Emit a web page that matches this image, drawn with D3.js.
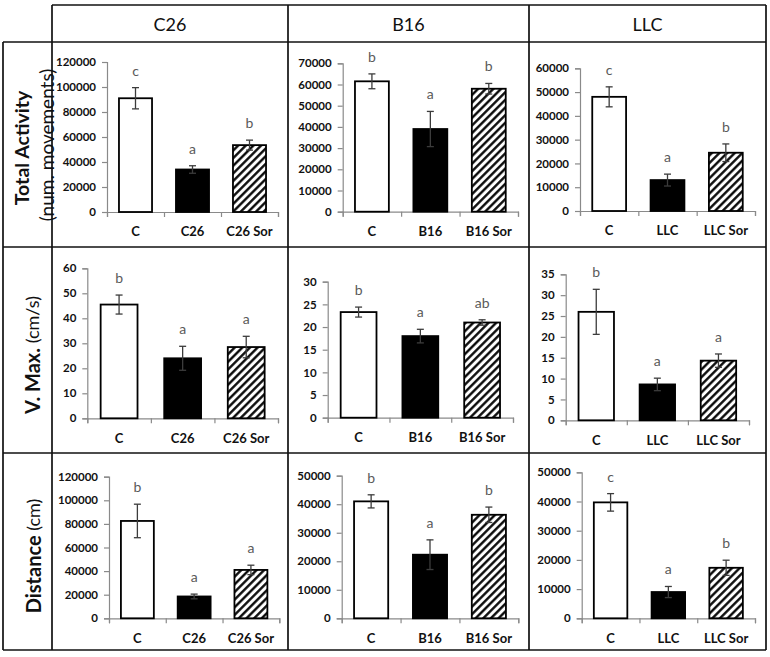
<!DOCTYPE html>
<html><head><meta charset="utf-8">
<script src="https://cdn.jsdelivr.net/npm/d3@7"></script>
<style>body{margin:0;background:#fff}svg{display:block}</style>
</head><body>
<svg id="chart" width="770" height="657"></svg>
<script>
// ---------- DATA ----------
const tumors = ["C26", "B16", "LLC"];
const groupLabels = [["C", "C26", "C26 Sor"], ["C", "B16", "B16 Sor"], ["C", "LLC", "LLC Sor"]];
const metricNames = ["Total Activity", "V. Max.", "Distance"];
const metricUnits = ["(num. movements)", "(cm/s)", "(cm)"];

const totalActivity    = [[91000, 34000, 53500], [61500, 39000, 58000], [48000, 13000, 24500]];
const totalActivityErr = [[8500, 3000, 4000], [3500, 8300, 2500], [4200, 2500, 3700]];
const vMax             = [[45.5, 24, 28.5], [23.3, 18, 21], [26, 8.6, 14.3]];
const vMaxErr          = [[3.8, 4.8, 4.3], [1.1, 1.5, 0.6], [5.4, 1.5, 1.6]];
const distance         = [[82500, 18500, 41000], [41000, 22300, 36300], [39700, 9000, 17300]];
const distanceErr      = [[14200, 2000, 4000], [2300, 5200, 2700], [3000, 1900, 2600]];

const sigLetters = [
  [["c", "a", "b"], ["b", "a", "b"], ["c", "a", "b"]],
  [["b", "a", "a"], ["b", "a", "ab"], ["b", "a", "a"]],
  [["b", "a", "a"], ["b", "a", "b"], ["c", "a", "b"]]
];
const yTickMax  = [[120000, 70000, 60000], [60, 30, 35], [120000, 50000, 50000]];
const yTickStep = [[20000, 10000, 10000], [10, 5, 5], [20000, 10000, 10000]];

const values = [totalActivity, vMax, distance];
const errors = [totalActivityErr, vMaxErr, distanceErr];

// ---------- LAYOUT ----------
const FONT = "Lato, 'Open Sans', sans-serif";
// plot ranges per panel: [xLeft, xRight, yTop, yBase]
const panelBox = [
  [[107, 278, 62, 212], [342.7, 518, 63.3, 211.7], [580, 755, 68.3, 211]],
  [[87.3, 278, 268.3, 418.3], [327.7, 513, 281.7, 417.7], [565.7, 749, 274.3, 420.3]],
  [[109, 279.3, 476.7, 618.3], [341.7, 518.3, 475.7, 618.3], [581.7, 755, 472.3, 618.3]]
];
const colX = [52, 288, 529, 766];
const rowY = [42, 247, 453, 650];
const fills = ["#ffffff", "#000000", "url(#hatch)"];

const svg = d3.select("#chart");
const defs = svg.append("defs");
const hp = 5.4;
const pat = defs.append("pattern").attr("id", "hatch")
  .attr("patternUnits", "userSpaceOnUse").attr("width", hp).attr("height", hp)
  .attr("patternTransform", "rotate(45)");
pat.append("rect").attr("width", hp).attr("height", hp).attr("fill", "#fff");
pat.append("line").attr("x1", 1.3).attr("x2", 1.3).attr("y1", -1).attr("y2", hp + 1)
  .attr("stroke", "#000").attr("stroke-width", 2.3);

// ---------- TABLE GRID ----------
const grid = svg.append("g").attr("stroke", "#111").attr("stroke-width", 1.7).attr("fill", "none");
const hLines = [[5, colX[0], colX[3]]].concat(rowY.map(y => [y, 3, colX[3]]));
hLines.forEach(([y, a, b]) => grid.append("line").attr("x1", a).attr("x2", b).attr("y1", y).attr("y2", y));
grid.append("line").attr("x1", 3).attr("x2", 3).attr("y1", rowY[0]).attr("y2", rowY[3]);
colX.forEach(x => grid.append("line").attr("x1", x).attr("x2", x).attr("y1", 5).attr("y2", rowY[3]));

// header texts
tumors.forEach((t, i) => {
  svg.append("text").attr("x", (colX[i] + colX[i + 1]) / 2).attr("y", 23.5)
    .attr("text-anchor", "middle").attr("dominant-baseline", "central")
    .attr("font-family", FONT).attr("font-size", 18).attr("fill", "#111").text(t);
});

// row labels
{
  const g = svg.append("g").attr("font-family", FONT).attr("fill", "#111");
  g.append("text").attr("transform", "translate(21,148) rotate(-90)")
    .attr("text-anchor", "middle").attr("dominant-baseline", "central")
    .attr("font-size", 19.5).attr("font-weight", 700).text(metricNames[0]);
  g.append("text").attr("transform", "translate(46,145) rotate(-90)")
    .attr("text-anchor", "middle").attr("dominant-baseline", "central")
    .attr("font-size", 19).text(metricUnits[0]);
  const rowCenters = [null, [32, 355], [33, 556]];
  [1, 2].forEach(r => {
    const t = g.append("text").attr("transform", `translate(${rowCenters[r][0]},${rowCenters[r][1]}) rotate(-90)`)
      .attr("text-anchor", "middle").attr("dominant-baseline", "central");
    t.append("tspan").attr("font-size", 20).attr("font-weight", 700).text(metricNames[r]);
    t.append("tspan").attr("font-size", 18).text(" " + metricUnits[r]);
  });
}

// ---------- PANELS ----------
for (let r = 0; r < 3; r++) {
  for (let c = 0; c < 3; c++) {
    const [x0, x1, yT, yB] = panelBox[r][c];
    const vals = values[r][c], errs = errors[r][c], labs = groupLabels[c], lets = sigLetters[r][c];
    const data = labs.map((l, i) => ({ label: l, v: vals[i], e: errs[i], fill: fills[i], sig: lets[i] }));
    const x = d3.scaleBand().domain(labs).range([x0, x1]).paddingInner(0.42).paddingOuter(0.21);
    const y = d3.scaleLinear().domain([0, yTickMax[r][c]]).range([yB, yT]);
    const xb = d3.scaleLinear().domain([0, 3]).range([x0, x1]);
    const g = svg.append("g");

    // y axis
    const ya = g.append("g").attr("transform", `translate(${x0},0)`)
      .call(d3.axisLeft(y).tickValues(d3.range(0, yTickMax[r][c] + 1e-9, yTickStep[r][c]))
        .tickSize(5).tickPadding(6).tickFormat(d3.format("d")));
    ya.select(".domain").attr("stroke", "#8a8a8a").attr("stroke-width", 1.2);
    ya.selectAll(".tick line").attr("stroke", "#8a8a8a").attr("stroke-width", 1.2);
    ya.selectAll(".tick text").attr("font-family", FONT).attr("font-size", 11.5)
      .attr("font-weight", 700).attr("fill", "#111");

    // x axis: boundary ticks
    const xa = g.append("g").attr("transform", `translate(0,${yB})`)
      .call(d3.axisBottom(xb).tickValues([0, 1, 2, 3]).tickSize(5).tickFormat(""));
    xa.select(".domain").attr("stroke", "#8a8a8a").attr("stroke-width", 1.2);
    xa.selectAll(".tick line").attr("stroke", "#8a8a8a").attr("stroke-width", 1.2);
    // x labels
    const xl = g.append("g").attr("transform", `translate(0,${yB})`)
      .call(d3.axisBottom(x).tickSize(0).tickPadding(15));
    xl.select(".domain").remove();
    xl.selectAll(".tick text").attr("font-family", FONT).attr("font-size", 13)
      .attr("font-weight", 700).attr("fill", "#111");

    // bars
    g.selectAll("rect.bar").data(data).join("rect").attr("class", "bar")
      .attr("x", d => x(d.label)).attr("width", x.bandwidth())
      .attr("y", d => y(d.v)).attr("height", d => yB - y(d.v))
      .attr("fill", d => d.fill).attr("stroke", "#000").attr("stroke-width", 1.8);

    // error bars
    const eb = g.selectAll("g.err").data(data).join("g").attr("class", "err")
      .attr("stroke", "#3c3c3c").attr("stroke-width", 1.3);
    const cx = d => x(d.label) + x.bandwidth() / 2;
    eb.append("line").attr("x1", cx).attr("x2", cx).attr("y1", d => y(d.v - d.e)).attr("y2", d => y(d.v + d.e));
    eb.append("line").attr("x1", d => cx(d) - 3.5).attr("x2", d => cx(d) + 3.5).attr("y1", d => y(d.v + d.e)).attr("y2", d => y(d.v + d.e));
    eb.append("line").attr("x1", d => cx(d) - 3.5).attr("x2", d => cx(d) + 3.5).attr("y1", d => y(d.v - d.e)).attr("y2", d => y(d.v - d.e));

    // significance letters
    g.selectAll("text.sig").data(data).join("text").attr("class", "sig")
      .attr("x", cx).attr("y", d => y(d.v + d.e) - 12)
      .attr("text-anchor", "middle").attr("font-family", FONT).attr("font-size", 14)
      .attr("fill", "#5a5a5a").text(d => d.sig);
  }
}
</script>
</body></html>
